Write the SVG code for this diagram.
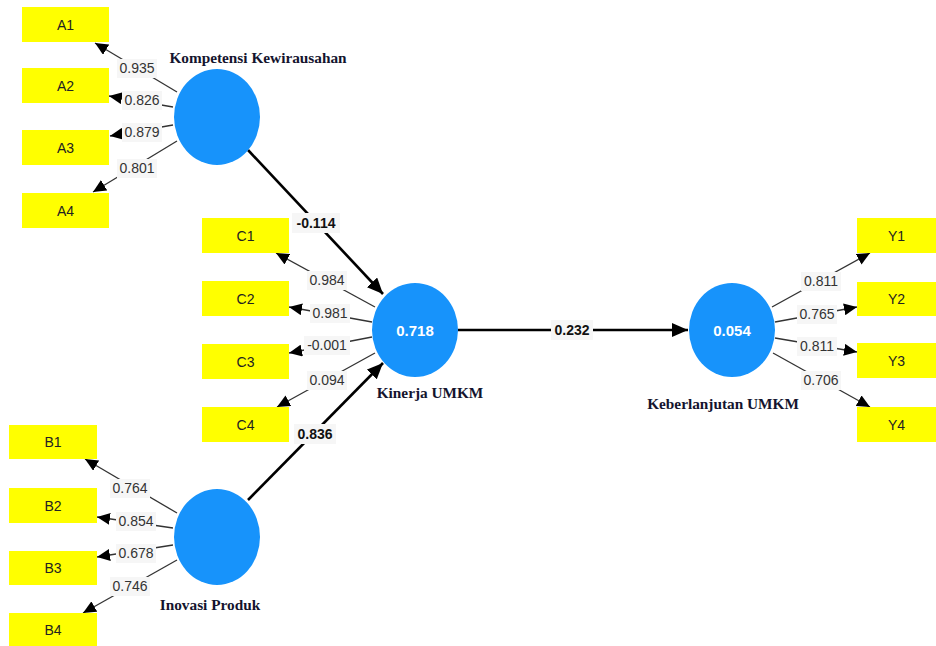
<svg xmlns="http://www.w3.org/2000/svg" width="936" height="646" viewBox="0 0 936 646">
<style>
.ind rect{fill:#ffff00}
.ind text{font-family:"Liberation Sans",Arial,sans-serif;font-size:14px;fill:#222;text-anchor:middle}
.lv ellipse{fill:#1793fb}
.lv text.v{font-family:"Liberation Sans",Arial,sans-serif;font-size:15px;font-weight:bold;fill:#fff;text-anchor:middle}
.nm{font-family:"Liberation Serif","Times New Roman",serif;font-size:15.3px;font-weight:bold;fill:#14142e;text-anchor:middle}
.thin{stroke:#333;stroke-width:1.3;fill:none;marker-end:url(#ah)}
.thick{stroke:#000;stroke-width:2.6;fill:none;marker-end:url(#ahb)}
.lb rect{fill:#f6f6f6}
.lb text{font-family:"Liberation Sans",Arial,sans-serif;font-size:14px;fill:#333;text-anchor:middle}
.lb text.b{font-weight:bold;fill:#111}
</style>
<defs>
<marker id="ah" markerUnits="userSpaceOnUse" markerWidth="13" markerHeight="12" refX="13" refY="6" orient="auto"><path d="M0,0 L13,6 L0,12 z" fill="#000"/></marker>
<marker id="ahb" markerUnits="userSpaceOnUse" markerWidth="16" markerHeight="14" refX="16" refY="7" orient="auto"><path d="M0,0 L16,7 L0,14 z" fill="#000"/></marker>
</defs>
<rect width="936" height="646" fill="#fff"/>
<g id="connectors">
<line class="thin" x1="177" y1="92" x2="95" y2="43"/>
<line class="thin" x1="173" y1="107" x2="109" y2="96"/>
<line class="thin" x1="173" y1="125" x2="110" y2="136"/>
<line class="thin" x1="177" y1="141" x2="93" y2="192"/>
<line class="thin" x1="177" y1="513" x2="85" y2="459"/>
<line class="thin" x1="173" y1="528" x2="97" y2="517"/>
<line class="thin" x1="173" y1="545" x2="97" y2="557"/>
<line class="thin" x1="177" y1="560" x2="83" y2="613"/>
<line class="thin" x1="375" y1="307" x2="276" y2="253"/>
<line class="thin" x1="372" y1="322" x2="289" y2="307"/>
<line class="thin" x1="372" y1="337" x2="289" y2="353"/>
<line class="thin" x1="375" y1="353" x2="277" y2="407"/>
<line class="thin" x1="772" y1="307" x2="870" y2="253"/>
<line class="thin" x1="775" y1="322" x2="857" y2="307"/>
<line class="thin" x1="775" y1="338" x2="857" y2="352"/>
<line class="thin" x1="773" y1="353" x2="870" y2="407"/>
<line class="thick" x1="248" y1="150" x2="383" y2="294"/>
<line class="thick" x1="248" y1="500" x2="383" y2="363"/>
<line class="thick" x1="458" y1="330" x2="688" y2="330"/>
<g class="lb">
<rect x="117" y="59" width="40" height="19"/><text x="137" y="73">0.935</text>
<rect x="122" y="91" width="40" height="19"/><text x="142" y="105">0.826</text>
<rect x="122" y="123" width="40" height="19"/><text x="142" y="137">0.879</text>
<rect x="117" y="159" width="40" height="19"/><text x="137" y="173">0.801</text>
<rect x="110" y="479" width="40" height="19"/><text x="130" y="493">0.764</text>
<rect x="116" y="512" width="40" height="19"/><text x="136" y="526">0.854</text>
<rect x="116" y="544" width="40" height="19"/><text x="136" y="558">0.678</text>
<rect x="110" y="577" width="40" height="19"/><text x="130" y="591">0.746</text>
<rect x="307" y="271" width="40" height="19"/><text x="327" y="285">0.984</text>
<rect x="310" y="304" width="40" height="19"/><text x="330" y="318">0.981</text>
<rect x="304" y="336" width="46" height="19"/><text x="327" y="350">-0.001</text>
<rect x="307" y="371" width="40" height="19"/><text x="327" y="385">0.094</text>
<rect x="801" y="272" width="40" height="19"/><text x="821" y="286">0.811</text>
<rect x="797" y="305" width="40" height="19"/><text x="817" y="319">0.765</text>
<rect x="797" y="337" width="40" height="19"/><text x="817" y="351">0.811</text>
<rect x="801" y="371" width="40" height="19"/><text x="821" y="385">0.706</text>
<rect x="292" y="213" width="48" height="20"/><text class="b" x="316" y="228">-0.114</text>
<rect x="294" y="424" width="42" height="20"/><text class="b" x="315" y="439">0.836</text>
<rect x="551" y="320" width="42" height="20"/><text class="b" x="572" y="335">0.232</text>
</g>
</g>
<g id="A1" class="ind"><rect x="22" y="7" width="87" height="35"/><text x="65.5" y="29.5">A1</text></g>
<g id="A2" class="ind"><rect x="22" y="68" width="87" height="35"/><text x="65.5" y="90.5">A2</text></g>
<g id="A3" class="ind"><rect x="22" y="130" width="87" height="35"/><text x="65.5" y="152.5">A3</text></g>
<g id="A4" class="ind"><rect x="22" y="193" width="87" height="35"/><text x="65.5" y="215.5">A4</text></g>
<g id="C1" class="ind"><rect x="202" y="218" width="87" height="35"/><text x="245.5" y="240.5">C1</text></g>
<g id="C2" class="ind"><rect x="202" y="281" width="87" height="35"/><text x="245.5" y="303.5">C2</text></g>
<g id="C3" class="ind"><rect x="202" y="344" width="87" height="35"/><text x="245.5" y="366.5">C3</text></g>
<g id="C4" class="ind"><rect x="202" y="407" width="87" height="35"/><text x="245.5" y="429.5">C4</text></g>
<g id="B1" class="ind"><rect x="9" y="425" width="88" height="34"/><text x="53" y="447">B1</text></g>
<g id="B2" class="ind"><rect x="9" y="488" width="88" height="35"/><text x="53" y="510.5">B2</text></g>
<g id="B3" class="ind"><rect x="9" y="551" width="88" height="34"/><text x="53" y="573">B3</text></g>
<g id="B4" class="ind"><rect x="9" y="613" width="88" height="34"/><text x="53" y="635">B4</text></g>
<g id="Y1" class="ind"><rect x="857" y="218" width="79" height="35"/><text x="896.5" y="240.5">Y1</text></g>
<g id="Y2" class="ind"><rect x="857" y="282" width="79" height="34"/><text x="896.5" y="304">Y2</text></g>
<g id="Y3" class="ind"><rect x="857" y="343" width="79" height="35"/><text x="896.5" y="365.5">Y3</text></g>
<g id="Y4" class="ind"><rect x="857" y="407" width="79" height="35"/><text x="896.5" y="429.5">Y4</text></g>
<g id="KompetensiKewirausahan" class="lv"><ellipse cx="217" cy="117" rx="43" ry="48"/><text class="nm" x="258" y="63">Kompetensi Kewirausahan</text></g>
<g id="KinerjaUMKM" class="lv"><ellipse cx="415" cy="330" rx="43" ry="47"/><text class="v" x="415" y="335.5">0.718</text><text class="nm" x="430" y="398">Kinerja UMKM</text></g>
<g id="InovasiProduk" class="lv"><ellipse cx="217" cy="537" rx="43" ry="48"/><text class="nm" x="210" y="610">Inovasi Produk</text></g>
<g id="KeberlanjutanUMKM" class="lv"><ellipse cx="732" cy="330" rx="43" ry="47"/><text class="v" x="732" y="335.5">0.054</text><text class="nm" x="723" y="409">Keberlanjutan UMKM</text></g>
</svg>
